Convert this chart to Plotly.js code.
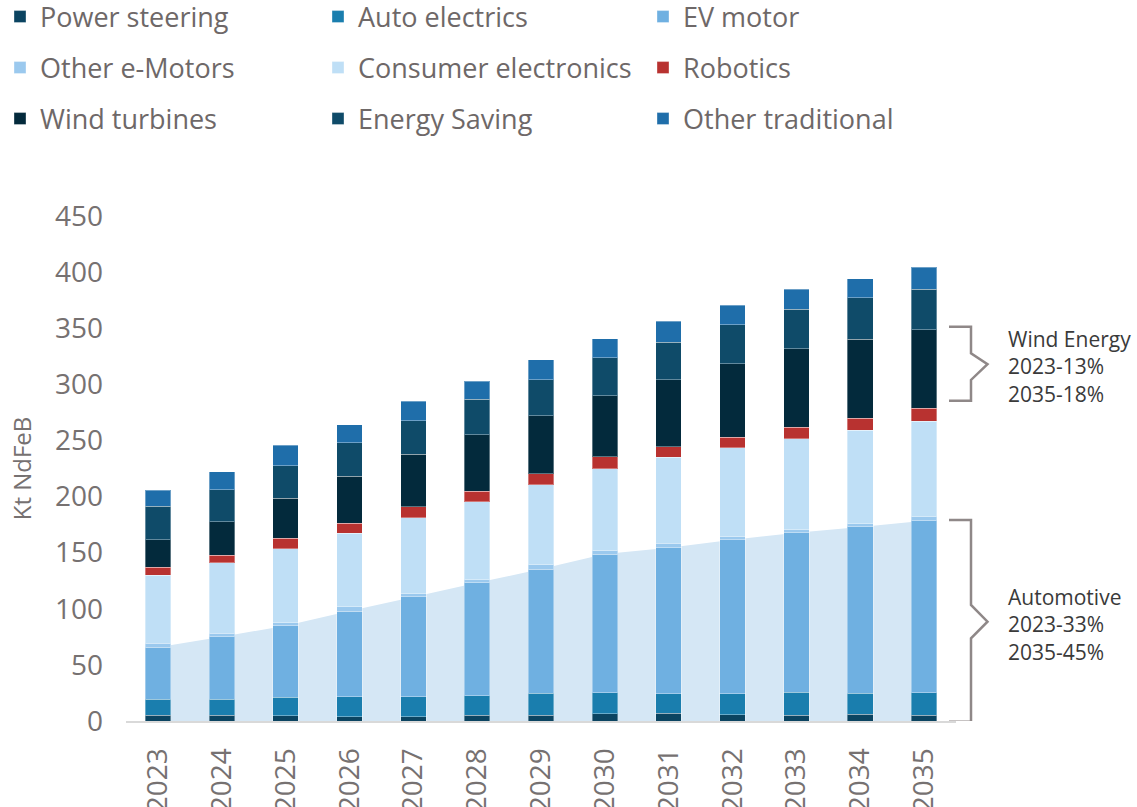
<!DOCTYPE html>
<html>
<head>
<meta charset="utf-8">
<script src="https://cdn.plot.ly/plotly-3.0.1.min.js"></script>
<style>html,body{margin:0;padding:0;background:#fff}#chart{width:1137px;height:807px}</style>
</head>
<body>
<div id="chart"></div>
<script>
// ---- data (Kt NdFeB) ----
const years = ['2023','2024','2025','2026','2027','2028','2029','2030','2031','2032','2033','2034','2035'];
const powerSteering      = [5.1, 5.1, 4.7, 3.8, 3.8, 5.3, 5.1, 6.5, 6.9, 5.6, 5.1, 6.0, 5.1];
const autoElectrics      = [14.5, 14.5, 16.4, 17.9, 17.9, 17.2, 19.6, 18.7, 17.4, 18.7, 20.7, 18.7, 20.1];
const evMotor            = [46.1, 55.5, 63.8, 76.3, 88.8, 100.7, 110.7, 123.6, 130.1, 137.3, 142.0, 148.2, 153.3];
const otherEMotors       = [3.4, 3.0, 2.8, 3.6, 2.7, 2.7, 3.9, 3.0, 4.2, 2.4, 2.7, 2.9, 3.5];
const consumerElectronics= [61.0, 63.0, 66.0, 65.7, 68.0, 69.5, 71.3, 73.0, 76.4, 79.5, 81.0, 83.2, 85.1];
const robotics           = [7.1, 6.8, 9.1, 9.1, 9.5, 9.3, 9.8, 10.5, 9.2, 9.3, 10.2, 10.7, 11.6];
const windTurbines       = [24.4, 29.7, 35.6, 41.7, 47.2, 50.4, 51.7, 54.6, 59.9, 65.6, 70.1, 70.4, 70.0];
const energySaving       = [29.7, 28.5, 29.1, 29.9, 29.7, 31.6, 32.0, 33.8, 33.6, 34.7, 35.1, 37.1, 36.0];
const otherTraditional   = [14.3, 15.8, 18.2, 15.8, 17.3, 16.0, 17.9, 17.0, 18.5, 17.3, 17.8, 16.9, 19.6];
// automotive total (background area)
const automotive         = [65.7, 75.1, 84.9, 98.0, 110.5, 123.2, 135.4, 148.8, 154.4, 161.6, 167.8, 172.9, 178.5];
const seriesNames = ['Power steering','Auto electrics','EV motor','Other e-Motors','Consumer electronics','Robotics','Wind turbines','Energy Saving','Other traditional'];
const bracketLabels = ['Wind Energy<br>2023-13%<br>2035-18%', 'Automotive<br>2023-33%<br>2035-45%'];
const yTitle = 'Kt NdFeB';

const seriesValues = [powerSteering, autoElectrics, evMotor, otherEMotors, consumerElectronics, robotics, windTurbines, energySaving, otherTraditional];
const colors = ['#0b4461','#1a7eae','#6fb0e1','#9bc9ee','#bfdff6','#b83230','#032a3c','#0f4b69','#1f6eaa'];

const FONT = 'Open Sans, Liberation Sans, Arial, sans-serif';
const W = 1137, H = 807;

const traces = [{
  type: 'scatter', x: years, y: automotive, xaxis: 'x', yaxis: 'y',
  mode: 'none', fill: 'tozeroy', fillcolor: '#d5e7f5',
  showlegend: false, hoverinfo: 'skip'
}];

const legendCols = [-7, 318, 643];   // left edge of each legend column, px
const legendRows = [17, 68, 119];    // vertical centre of each legend row, px
const layoutLegends = {};
seriesNames.forEach((name, i) => {
  const key = i === 0 ? 'legend' : 'legend' + (i + 1);
  traces.push({
    type: 'bar', name: name, x: years, y: seriesValues[i],
    xaxis: 'x', yaxis: 'y2', legend: key,
    marker: {color: colors[i], line: {color: 'rgba(255,255,255,0.35)', width: 1}}
  });
  layoutLegends[key] = {
    orientation: 'h', xref: 'container', yref: 'container',
    xanchor: 'left', yanchor: 'middle',
    x: legendCols[i % 3] / W, y: 1 - legendRows[Math.floor(i / 3)] / H,
    font: {family: FONT, size: 27, color: '#6e6868'}, bgcolor: 'rgba(0,0,0,0)'
  };
});

const plotL = 126, plotR = 956;
const px = v => (v - plotL) / (plotR - plotL);

function bracket(top, upMid, tip, lowMid, bottom) {
  const a = px(949), b = px(971), c = px(987.5);
  return `M${a},${top} L${b},${top} L${b},${upMid} L${c},${tip} L${b},${lowMid} L${b},${bottom} L${a},${bottom}`;
}

const layout = Object.assign({
  width: W, height: H,
  margin: {l: plotL, r: W - plotR, t: 216, b: 86},
  paper_bgcolor: '#fff', plot_bgcolor: 'rgba(0,0,0,0)',
  barmode: 'stack', bargap: 0.6,
  font: {family: FONT, color: '#767171'},
  showlegend: true,
  xaxis: {
    type: 'category', range: [-0.5, 12.5], fixedrange: true,
    showline: true, linecolor: '#d9d9d9', linewidth: 2,
    showgrid: false, zeroline: false, ticks: '',
    tickangle: -90, ticklabelstandoff: 14,
    tickfont: {family: FONT, size: 28, color: '#767171'}
  },
  yaxis: {
    range: [0, 450], dtick: 50, fixedrange: true,
    showgrid: false, zeroline: false, showline: false, ticks: '',
    ticklabelstandoff: 22,
    tickfont: {family: FONT, size: 28, color: '#767171'},
    title: {text: yTitle, font: {family: FONT, size: 24, color: '#767171'}, standoff: 16}
  },
  yaxis2: {range: [0, 450], overlaying: 'y', visible: false, fixedrange: true},
  shapes: [
    {type: 'path', xref: 'paper', yref: 'y', path: bracket(351.4, 327.7, 317.9, 303.9, 285.4),
     line: {color: '#8f8888', width: 2.5}},
    {type: 'path', xref: 'paper', yref: 'y', path: bracket(179.1, 103.4, 88.5, 73.7, -0.6),
     line: {color: '#8f8888', width: 2.5}}
  ],
  annotations: [
    {xref: 'paper', yref: 'y', x: px(1006), y: 316, xanchor: 'left', yanchor: 'middle', align: 'left',
     showarrow: false, text: bracketLabels[0], font: {family: FONT, size: 21, color: '#3a3a3a'}},
    {xref: 'paper', yref: 'y', x: px(1006), y: 86, xanchor: 'left', yanchor: 'middle', align: 'left',
     showarrow: false, text: bracketLabels[1], font: {family: FONT, size: 21, color: '#3a3a3a'}}
  ]
}, layoutLegends);

Plotly.newPlot('chart', traces, layout, {displayModeBar: false, staticPlot: true});
</script>
</body>
</html>
